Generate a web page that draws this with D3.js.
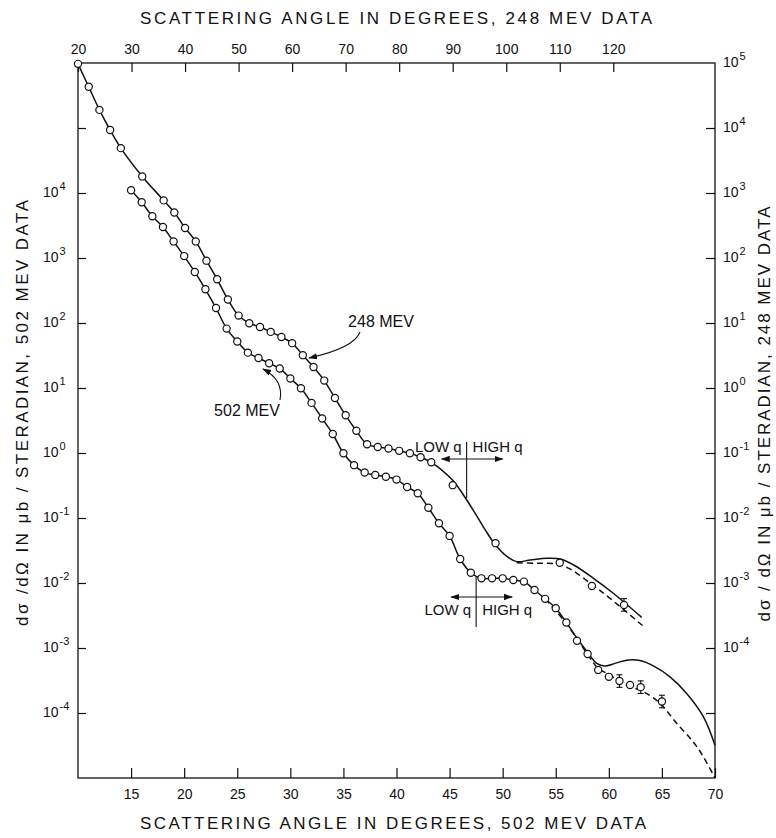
<!DOCTYPE html>
<html>
<head>
<meta charset="utf-8">
<script src="https://cdn.jsdelivr.net/npm/d3@7"></script>
<style>
  body { margin: 0; background: #fff; }
  svg { font-family: "Liberation Sans", Arial, sans-serif; fill: #111; }
</style>
</head>
<body>
<svg id="chart" width="776" height="838"></svg>
<script>
// 248 MeV data (top angle axis, right cross-section axis)
const ang248 = [20,22,24,26,28,32,36,38,40,42,44,46,48,50,52,54,56,58,60,62,64,66,68,70,72,74,76,78,80,82,84,86,90,98,110,116,122];
const xs248 = [9.7e4,4.3e4,1.9e4,9.3e3,4.9e3,1.8e3,770,500,290,180,91,47,23,13,9.9,8.7,7.3,6.1,4.9,3.2,2.1,1.3,0.70,0.38,0.22,0.136,0.124,0.117,0.108,0.099,0.086,0.072,0.032,4.1e-3,2.05e-3,9.0e-4,4.6e-4];
const err248 = [[122, 1.25]];

// 502 MeV data (bottom angle axis, left cross-section axis)
const ang502 = [15,16,17,18,19,20,21,22,23,24,25,26,27,28,29,30,31,32,33,34,35,36,37,38,39,40,41,42,43,44,45,46,47,48,49,50,51,52,53,54,55,56,57,58,59,60,61,62,63,65];
const xs502 = [1.1e4,7.2e3,4.4e3,3.0e3,1.8e3,1.07e3,610,330,170,82,52,35,29,24,20,14,9.9,5.9,3.4,1.96,0.99,0.65,0.50,0.46,0.43,0.39,0.30,0.24,0.144,0.083,0.053,0.0234,0.0144,0.0118,0.0118,0.0118,0.0111,0.0105,7.8e-3,5.7e-3,4.1e-3,2.47e-3,1.29e-3,8.1e-4,4.6e-4,3.6e-4,3.1e-4,2.7e-4,2.5e-4,1.5e-4];
const err502 = [[61, 1.25], [63, 1.25], [65, 1.25]];

// theoretical curves beyond the data
const tail248 = [[90,0.038],[92,0.0226],[94.2,0.0118],[96.1,6.5e-3],[98,3.85e-3],[100.2,2.54e-3],[102,2.13e-3],[104.5,2.26e-3],[107.6,2.4e-3],[110.1,2.34e-3],[112.6,1.89e-3],[116.3,1.18e-3],[120,6.95e-4],[125.3,2.96e-4]];
const dash248 = [[102,2.05e-3],[105.7,2.01e-3],[109.5,1.96e-3],[112,1.63e-3],[115.7,9.9e-4],[119.4,5.8e-4],[125.7,2.13e-4]];
const tail502 = [[57,1.41e-3],[58.06,8.3e-4],[58.86,5.8e-4],[59.64,5.3e-4],[60.58,5.8e-4],[61.68,6.5e-4],[62.93,6.4e-4],[64.19,5.3e-4],[65.76,3.6e-4],[67.33,2.0e-4],[68.9,8.8e-5],[70,3.2e-5]];
const dash502 = [[54,5.7e-3],[56.03,2.34e-3],[58.04,7.8e-4],[58.98,4.9e-4],[60.1,3.85e-4],[61.36,2.8e-4],[63.24,2.13e-4],[64.82,1.41e-4],[66.39,6.95e-5],[67.95,3.6e-5],[68.9,2.13e-5],[70,1e-5]];

// tick labels
const topTicks = [20,30,40,50,60,70,80,90,100,110,120];
const botTicks = [15,20,25,30,35,40,45,50,55,60,65,70];
const leftExp = [4,3,2,1,0,-1,-2,-3,-4];
const rightExp = [5,4,3,2,1,0,-1,-2,-3,-4];

const L = 78, R = 715, T = 63, B = 778;
const xBot = d3.scaleLinear().domain([10, 70]).range([L, R]);
const xTop = d3.scaleLinear().domain([20, 139]).range([L, R]);
const yL = d3.scaleLog().domain([1e-5, 1e6]).range([B, T]);
const yR = d3.scaleLog().domain([1e-6, 1e5]).range([B, T]);

const svg = d3.select('#chart');
const ink = '#111';

// frame
svg.append('rect').attr('x', L).attr('y', T).attr('width', R - L).attr('height', B - T)
    .attr('fill', 'none').attr('stroke', ink).attr('stroke-width', 1.3);

// axes
const gTop = svg.append('g').attr('transform', `translate(0,${T})`)
    .call(d3.axisTop(xTop).tickValues(topTicks).tickSizeInner(-9).tickSizeOuter(0).tickPadding(9));
const gBot = svg.append('g').attr('transform', `translate(0,${B})`)
    .call(d3.axisBottom(xBot).tickValues(botTicks).tickSizeInner(-10).tickSizeOuter(0).tickPadding(11));
const gLeft = svg.append('g').attr('transform', `translate(${L},0)`)
    .call(d3.axisLeft(yL).tickValues([1e5,1e4,1e3,1e2,1e1,1,1e-1,1e-2,1e-3,1e-4]).tickFormat('').tickSizeInner(-8).tickSizeOuter(0));
const gRight = svg.append('g').attr('transform', `translate(${R},0)`)
    .call(d3.axisRight(yR).tickValues([1e4,1e3,1e2,1e1,1,1e-1,1e-2,1e-3,1e-4,1e-5]).tickFormat('').tickSizeInner(-9).tickSizeOuter(0));
[gTop, gBot, gLeft, gRight].forEach(g => {
    g.select('.domain').remove();
    g.selectAll('line').attr('stroke', ink).attr('stroke-width', 1.2);
    g.selectAll('text').attr('font-size', 14).attr('font-family', null).attr('fill', ink);
});

// decade labels with superscripts
function decade(sel, exps, scale, x) {
    const t = sel.selectAll(null).data(exps).enter().append('text')
        .attr('x', x).attr('y', d => scale(Math.pow(10, d)) + 4)
        .attr('font-size', 14).attr('fill', ink);
    t.append('tspan').text('10');
    t.append('tspan').attr('dy', -7).attr('dx', 1).attr('font-size', 11)
        .text(d => d < 0 ? '-' + (-d) : d);
}
decade(svg, leftExp, yL, 43);
decade(svg, rightExp, yR, 723);

// axis titles
svg.append('text').attr('x', 396).attr('y', 24).attr('text-anchor', 'middle')
    .attr('font-size', 17).attr('textLength', 512).attr('fill', ink)
    .text('SCATTERING ANGLE IN DEGREES, 248 MEV DATA');
svg.append('text').attr('x', 393).attr('y', 829).attr('text-anchor', 'middle')
    .attr('font-size', 17).attr('textLength', 506).attr('fill', ink)
    .text('SCATTERING ANGLE IN DEGREES, 502 MEV DATA');
svg.append('text').attr('transform', 'translate(28,413) rotate(-90)').attr('text-anchor', 'middle')
    .attr('font-size', 17).attr('textLength', 426).attr('fill', ink)
    .text('dσ /dΩ IN μb / STERADIAN, 502 MEV DATA');
svg.append('text').attr('transform', 'translate(770,414) rotate(-90)').attr('text-anchor', 'middle')
    .attr('font-size', 17).attr('textLength', 415).attr('fill', ink)
    .text('dσ / dΩ IN μb / STERADIAN, 248 MEV DATA');

// curves
const pts248 = ang248.map((a, i) => [a, xs248[i]]);
const pts502 = ang502.map((a, i) => [a, xs502[i]]);
const line248 = d3.line().x(d => xTop(d[0])).y(d => yR(d[1])).curve(d3.curveCatmullRom.alpha(0.5));
const line502 = d3.line().x(d => xBot(d[0])).y(d => yL(d[1])).curve(d3.curveCatmullRom.alpha(0.5));

const curves = svg.append('g').attr('fill', 'none').attr('stroke', ink).attr('stroke-width', 1.5);
curves.append('path').attr('d', line248(pts248.filter(d => d[0] <= 86).concat(tail248)));
curves.append('path').attr('d', line248(dash248)).attr('stroke-dasharray', '6,4');
curves.append('path').attr('d', line502(pts502.filter(d => d[0] <= 56).concat(tail502)));
curves.append('path').attr('d', line502(dash502)).attr('stroke-dasharray', '6,4');

// error bars
const bars = svg.append('g').attr('stroke', ink).attr('stroke-width', 1.1);
function errbars(list, pts, xs, ys) {
    list.forEach(([a, f]) => {
        const v = pts.find(d => d[0] === a)[1];
        const x = xs(a), y0 = ys(v / f), y1 = ys(v * f);
        bars.append('line').attr('x1', x).attr('x2', x).attr('y1', y0).attr('y2', y1);
        bars.append('line').attr('x1', x - 3).attr('x2', x + 3).attr('y1', y0).attr('y2', y0);
        bars.append('line').attr('x1', x - 3).attr('x2', x + 3).attr('y1', y1).attr('y2', y1);
    });
}
errbars(err248, pts248, xTop, yR);
errbars(err502, pts502, xBot, yL);

// data points
const dots = svg.append('g').attr('fill', '#fff').attr('stroke', ink).attr('stroke-width', 1.2);
dots.selectAll('.p248').data(pts248).enter().append('circle')
    .attr('cx', d => xTop(d[0])).attr('cy', d => yR(d[1])).attr('r', 3.6);
dots.selectAll('.p502').data(pts502).enter().append('circle')
    .attr('cx', d => xBot(d[0])).attr('cy', d => yL(d[1])).attr('r', 3.6);

// arrow heads
const defs = svg.append('defs');
defs.append('marker').attr('id', 'ah').attr('viewBox', '0 0 10 10').attr('refX', 9).attr('refY', 5)
    .attr('markerWidth', 9).attr('markerHeight', 9).attr('orient', 'auto-start-reverse')
    .attr('markerUnits', 'userSpaceOnUse')
    .append('path').attr('d', 'M0,1.5 L10,5 L0,8.5 z').attr('fill', ink);

// curve labels
const ann = svg.append('g').attr('fill', 'none').attr('stroke', ink).attr('stroke-width', 1.1);
svg.append('text').attr('x', 381).attr('y', 327).attr('text-anchor', 'middle')
    .attr('font-size', 16).attr('fill', ink).text('248 MEV');
ann.append('path').attr('d', 'M360,332 Q354,348 309,358').attr('marker-end', 'url(#ah)');
svg.append('text').attr('x', 247).attr('y', 416).attr('text-anchor', 'middle')
    .attr('font-size', 16).attr('fill', ink).text('502 MEV');
ann.append('path').attr('d', 'M280,400 Q284,380 263,369').attr('marker-end', 'url(#ah)');

// LOW q / HIGH q dividers
function divider(x, yTop, yBot, yArr, yText) {
    ann.append('line').attr('x1', x).attr('x2', x).attr('y1', yTop).attr('y2', yBot);
    ann.append('line').attr('x1', x - 25).attr('x2', x + 36).attr('y1', yArr).attr('y2', yArr)
        .attr('marker-start', 'url(#ah)').attr('marker-end', 'url(#ah)');
    svg.append('text').attr('x', x - 5).attr('y', yText).attr('text-anchor', 'end')
        .attr('font-size', 15).attr('fill', ink).text('LOW q');
    svg.append('text').attr('x', x + 6).attr('y', yText)
        .attr('font-size', 15).attr('fill', ink).text('HIGH q');
}
divider(xTop(92.6), 442, 498, 459, 452);
divider(xBot(47.5), 577, 627, 597, 615);
</script>
</body>
</html>
